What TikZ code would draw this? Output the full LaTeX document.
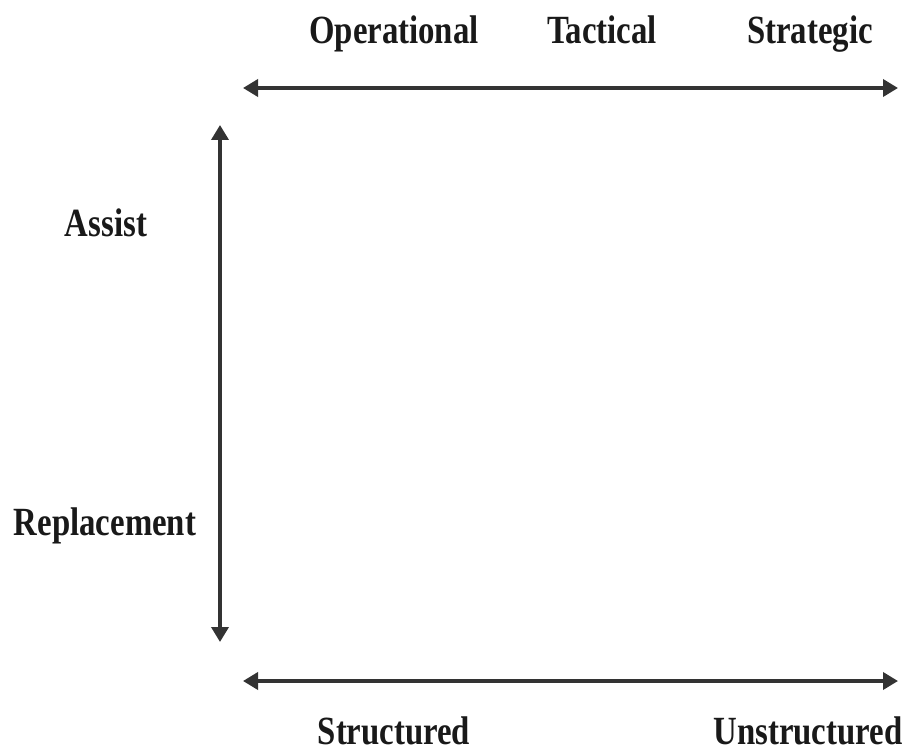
\documentclass[tikz,border=0pt]{standalone}
\usepackage{fontspec}
\setmainfont{Liberation Serif}[FakeStretch=0.82]
\usetikzlibrary{arrows.meta}
\definecolor{axisgray}{HTML}{333333}
\begin{document}
\begin{tikzpicture}[x=1pt,y=-1pt,
  axis/.style={draw=axisgray,line width=3.6pt,{Triangle[length=15pt,width=17pt]}-{Triangle[length=15pt,width=17pt]}},
  lbl/.style={font=\fontsize{40}{44}\selectfont\bfseries,text=black!90,inner sep=0pt,anchor=base}]
\useasboundingbox[fill=white] (0,0) rectangle (908,746);
% axis end points
\coordinate (tl) at (243,88);  \coordinate (tr) at (898,88);
\coordinate (vt) at (220,125); \coordinate (vb) at (220,642);
\coordinate (bl) at (243,681); \coordinate (br) at (898,681);
\draw[axis] (tl) -- (tr);
\draw[axis] (vt) -- (vb);
\draw[axis] (bl) -- (br);
% labels (placed by baseline)
\node[lbl] (op) at (394,44) {Operational};
\node[lbl] (ta) at (602,44) {Tactical};
\node[lbl] (st) at (810,44) {Strategic};
\node[lbl] (as) at (106,237) {Assist};
\node[lbl] (re) at (105,535) {Replacement};
\node[lbl] (su) at (394,744) {Structured};
\node[lbl] (un) at (808,744) {Unstructured};
\end{tikzpicture}
\end{document}
